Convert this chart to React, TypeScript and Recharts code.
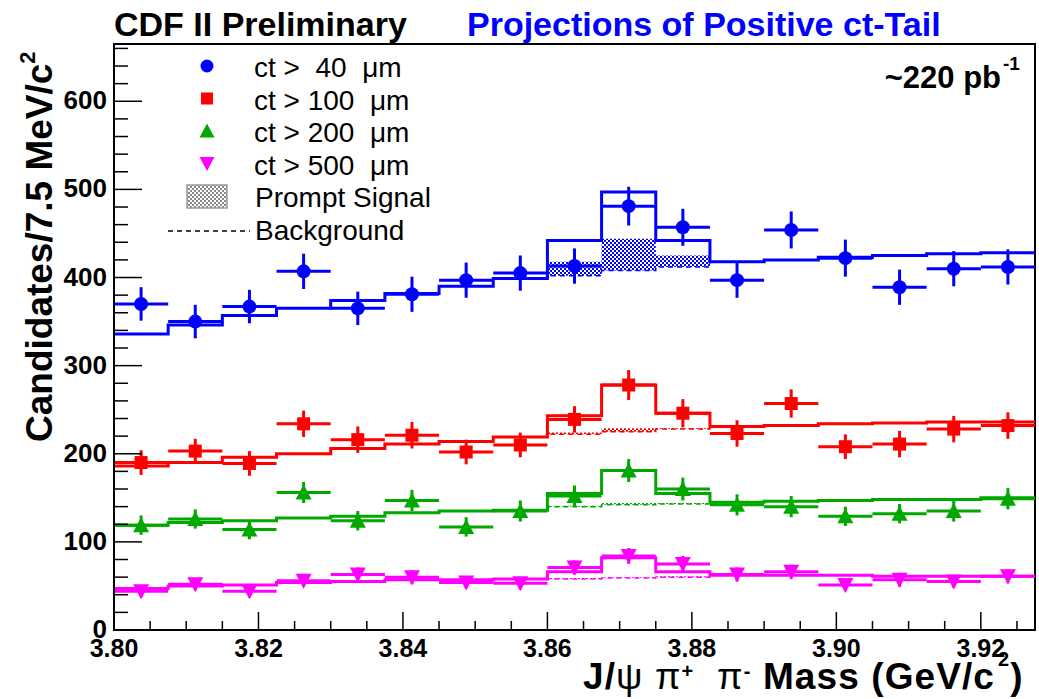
import React from 'react'
import { ComposedChart, XAxis, YAxis, Line, Area, Scatter, ErrorBar, ReferenceArea } from 'recharts'

const W = 1039
const H = 699
const FONT = '"Liberation Sans", Arial, Helvetica, sans-serif'

// 7.5 MeV/c^2 mass bins
const binEdges = [3.8, 3.8075, 3.815, 3.8225, 3.83, 3.8375, 3.845, 3.8525, 3.86, 3.8675, 3.875, 3.8825, 3.89, 3.8975, 3.905, 3.9125, 3.92, 3.9275]

// ct > 40 um
const ct40Counts = [370, 350, 367, 407, 365, 381, 397, 405, 413, 481, 457, 397, 454, 422, 389, 410, 412]
const ct40Errors = [19, 19, 19, 20, 19, 20, 20, 20, 20, 22, 21, 20, 21, 21, 20, 20, 20]
const ct40Fit = [336, 346, 357, 365, 374, 382, 390, 399, 442, 497, 442, 418, 420, 423, 425, 427, 428]
const ct40Bkg = [336, 346, 357, 365, 374, 382, 390, 399, 402, 408, 412, 418, 420, 423, 425, 427, 428]
const ct40Prompt = [0, 0, 0, 0, 0, 0, 0, 0, 16, 36, 13, 0, 0, 0, 0, 0, 0]

// ct > 100 um
const ct100Counts = [190, 203, 189, 234, 216, 221, 202, 210, 239, 278, 246, 223, 257, 208, 211, 228, 232]
const ct100Errors = [14, 14, 14, 15, 15, 15, 14, 14, 15, 17, 16, 15, 16, 14, 15, 15, 15]
const ct100Fit = [186, 190, 196, 200, 206, 211, 214, 219, 243, 278, 246, 231, 232, 234, 235, 236, 236]
const ct100Bkg = [186, 190, 196, 200, 206, 211, 214, 219, 222, 225, 228, 231, 232, 234, 235, 236, 236]
const ct100Prompt = [0, 0, 0, 0, 0, 0, 0, 0, 2, 4, 1, 0, 0, 0, 0, 0, 0]

// ct > 200 um
const ct200Counts = [119, 126, 114, 156, 124, 147, 117, 135, 152, 181, 160, 142, 140, 129, 132, 135, 149]
const ct200Errors = [11, 11, 11, 12, 11, 12, 11, 12, 12, 13, 13, 12, 12, 11, 11, 12, 12]
const ct200Fit = [119, 122, 124, 127, 129, 133, 135, 136, 155, 181, 155, 145, 146, 147, 148, 148, 150]
const ct200Bkg = [119, 122, 124, 127, 129, 133, 135, 136, 140, 142, 143, 145, 146, 147, 148, 148, 150]
const ct200Prompt = [0, 0, 0, 0, 0, 0, 0, 0, 1, 2, 1, 0, 0, 0, 0, 0, 0]

// ct > 500 um
const ct500Counts = [44, 52, 44, 56, 63, 60, 54, 53, 71, 84, 75, 63, 66, 51, 57, 55, 61]
const ct500Errors = [7, 7, 7, 7, 8, 8, 7, 7, 8, 9, 9, 8, 8, 7, 8, 7, 8]
const ct500Fit = [47, 50, 51, 54, 55, 57, 57, 58, 66, 82, 66, 62, 62, 62, 61, 61, 61]
const ct500Bkg = [47, 50, 51, 54, 55, 57, 57, 58, 58, 59, 60, 62, 62, 62, 61, 61, 61]
const ct500Prompt = [0, 0, 0, 0, 0, 0, 0, 0, 1, 1, 1, 0, 0, 0, 0, 0, 0]

const legendLabels = ['ct >  40  \u03bcm', 'ct > 100  \u03bcm', 'ct > 200  \u03bcm', 'ct > 500  \u03bcm']

const xTicks = Array.from({ length: 26 }, (_, i) => +(3.8 + i * 0.005).toFixed(3))
const yTicks = Array.from({ length: 34 }, (_, i) => i * 20)

type MarkerKind = 'circle' | 'square' | 'triangle' | 'triangleDown'

interface Series {
  id: string
  color: string
  marker: MarkerKind
  counts: number[]
  errors: number[]
  fit: number[]
  bkg: number[]
  prompt: number[]
}

const series: Series[] = [
  { id: 'ct40', color: '#0000ff', marker: 'circle', counts: ct40Counts, errors: ct40Errors, fit: ct40Fit, bkg: ct40Bkg, prompt: ct40Prompt },
  { id: 'ct100', color: '#ff0000', marker: 'square', counts: ct100Counts, errors: ct100Errors, fit: ct100Fit, bkg: ct100Bkg, prompt: ct100Prompt },
  { id: 'ct200', color: '#00a800', marker: 'triangle', counts: ct200Counts, errors: ct200Errors, fit: ct200Fit, bkg: ct200Bkg, prompt: ct200Prompt },
  { id: 'ct500', color: '#ff00ff', marker: 'triangleDown', counts: ct500Counts, errors: ct500Errors, fit: ct500Fit, bkg: ct500Bkg, prompt: ct500Prompt },
]

// step histograms: one row per bin edge, the last edge repeats the last bin
const histRows = (s: Series) =>
  binEdges.map((x, i) => {
    const j = Math.min(i, s.fit.length - 1)
    return { x, fit: s.fit[j], bkg: s.bkg[j], band: [s.bkg[j], s.bkg[j] + s.prompt[j]] }
  })

const pointRows = (s: Series) =>
  s.counts.map((y, i) => ({
    x: (binEdges[i] + binEdges[i + 1]) / 2,
    y,
    ey: s.errors[i],
    ex: (binEdges[i + 1] - binEdges[i]) / 2,
  }))

function Marker({ kind, cx, cy, color, size = 14 }: { kind: MarkerKind; cx: number; cy: number; color: string; size?: number }) {
  const r = size / 2
  if (kind === 'circle') return <circle cx={cx} cy={cy} r={r} fill={color} />
  if (kind === 'square') return <rect x={cx - r + 0.5} y={cy - r + 0.5} width={size - 1} height={size - 1} fill={color} />
  if (kind === 'triangle')
    return <polygon points={`${cx},${cy - r - 1} ${cx - r - 1},${cy + r} ${cx + r + 1},${cy + r}`} fill={color} />
  return <polygon points={`${cx},${cy + r + 1} ${cx - r - 1},${cy - r} ${cx + r + 1},${cy - r}`} fill={color} />
}

const YTick = (props: any) => {
  const { x, y, payload } = props
  const major = payload.value % 100 === 0
  return (
    <g>
      <line x1={x} x2={x + (major ? 28 : 14)} y1={y} y2={y} stroke="#000" strokeWidth={1.5} />
      {major && (
        <text x={x - 7} y={y + 8} textAnchor="end" fontSize={26} fontWeight="bold" fontFamily={FONT} fill="#000">
          {payload.value}
        </text>
      )}
    </g>
  )
}

const XTick = (props: any) => {
  const { x, y, payload } = props
  const major = Math.round(payload.value * 1000) % 20 === 0
  return (
    <g>
      <line x1={x} x2={x} y1={y} y2={y - (major ? 18 : 9)} stroke="#000" strokeWidth={1.5} />
      {major && (
        <text x={x} y={y + 27} textAnchor="middle" fontSize={25} fontWeight="bold" fontFamily={FONT} fill="#000">
          {payload.value.toFixed(2)}
        </text>
      )}
    </g>
  )
}

function DotPattern({ id, color }: { id: string; color: string }) {
  return (
    <pattern id={id} width={4} height={4} patternUnits="userSpaceOnUse">
      <rect width={4} height={4} fill="#fff" />
      <rect width={2} height={2} fill={color} />
      <rect x={2} y={2} width={2} height={2} fill={color} />
    </pattern>
  )
}

export default function App() {
  const rowY = (i: number) => 77 + i * 32.5
  return (
    <div style={{ position: 'fixed', left: 0, top: 0, width: W, height: H, background: '#fff' }}>
      <ComposedChart width={W} height={H} margin={{ top: 44, right: 4, bottom: 0, left: 0 }}>
        <defs>
          {series.map((s) => (
            <DotPattern key={s.id} id={`dots-${s.id}`} color={s.color} />
          ))}
        </defs>
        <XAxis
          dataKey="x"
          type="number"
          domain={[3.8, 3.9275]}
          allowDataOverflow
          ticks={xTicks}
          interval={0}
          tickSize={0}
          tickMargin={0}
          tickLine={false}
          tick={<XTick />}
          height={69}
          axisLine={{ stroke: '#000', strokeWidth: 2 }}
        />
        <YAxis
          type="number"
          domain={[0, 665]}
          allowDataOverflow
          ticks={yTicks}
          interval={0}
          tickSize={0}
          tickMargin={0}
          tickLine={false}
          tick={<YTick />}
          width={114}
          axisLine={{ stroke: '#000', strokeWidth: 2 }}
        />
        <ReferenceArea x1={3.8} x2={3.9275} y1={0} y2={665} fill="none" stroke="#000" strokeWidth={2} ifOverflow="visible" />
        {series.flatMap((s) => {
          const rows = histRows(s)
          return [
            <Area
              key={`${s.id}-prompt`}
              data={rows}
              dataKey="band"
              type="stepAfter"
              stroke="none"
              fill={`url(#dots-${s.id})`}
              fillOpacity={1}
              isAnimationActive={false}
              activeDot={false}
            />,
            <Line
              key={`${s.id}-bkg`}
              data={rows}
              dataKey="bkg"
              type="stepAfter"
              stroke={s.color}
              strokeWidth={1.5}
              strokeDasharray="5 4"
              dot={false}
              activeDot={false}
              isAnimationActive={false}
            />,
            <Line
              key={`${s.id}-fit`}
              data={rows}
              dataKey="fit"
              type="stepAfter"
              stroke={s.color}
              strokeWidth={3}
              dot={false}
              activeDot={false}
              isAnimationActive={false}
            />,
          ]
        })}
        {series.map((s) => (
          <Scatter
            key={`${s.id}-data`}
            data={pointRows(s)}
            dataKey="y"
            fill={s.color}
            isAnimationActive={false}
            shape={(p: any) => <Marker kind={s.marker} cx={p.cx} cy={p.cy} color={s.color} />}
          >
            <ErrorBar dataKey="ey" direction="y" width={0} stroke={s.color} strokeWidth={3} />
            <ErrorBar dataKey="ex" direction="x" width={0} stroke={s.color} strokeWidth={3} />
          </Scatter>
        ))}
      </ComposedChart>

      <svg
        width={W}
        height={H}
        style={{ position: 'absolute', left: 0, top: 0, pointerEvents: 'none' }}
        fontFamily={FONT}
      >
        <defs>
          <DotPattern id="dots-legend" color="#8a8a8a" />
        </defs>
        <text x={114} y={36} fontSize={34} fontWeight="bold" fill="#000">
          CDF II Preliminary
        </text>
        <text x={467} y={36} fontSize={34} fontWeight="bold" fill="#0000ff">
          Projections of Positive ct-Tail
        </text>
        <text x={1001} y={88} fontSize={31} fontWeight="bold" textAnchor="end" fill="#000">
          ~220 pb
        </text>
        <text x={1003} y={70} fontSize={19} fontWeight="bold" fill="#000">
          -1
        </text>

        {series.map((s, i) => (
          <g key={s.id}>
            <Marker kind={s.marker} cx={207} cy={rowY(i) - 11} color={s.color} size={13} />
            <text x={254} y={rowY(i)} fontSize={28} fill="#000" style={{ whiteSpace: 'pre' }}>
              {legendLabels[i]}
            </text>
          </g>
        ))}
        <rect x={187} y={185} width={40} height={23} fill="url(#dots-legend)" stroke="#9a9a9a" strokeWidth={1.5} />
        <text x={255} y={rowY(4)} fontSize={28} fill="#000">
          Prompt Signal
        </text>
        <line x1={168} x2={250} y1={231} y2={231} stroke="#000" strokeWidth={1.5} strokeDasharray="5 4" />
        <text x={255} y={rowY(5)} fontSize={28} fill="#000">
          Background
        </text>

        <text transform="translate(52,442) rotate(-90)" fontSize={37} fontWeight="bold" fill="#000">
          Candidates/7.5 MeV/c<tspan fontSize={22} dy={-17}>2</tspan>
        </text>

        <text x={583} y={689} fontSize={37} fontWeight="bold" letterSpacing={1.1} fill="#000" style={{ whiteSpace: 'pre' }}>
          J/<tspan fontWeight="normal">{'\u03c8 \u03c0'}</tspan>
          <tspan fontSize={20} dy={-11}>+</tspan>
          <tspan dy={11} fontWeight="normal">{'  \u03c0'}</tspan>
          <tspan fontSize={20} dy={-11}>-</tspan>
          <tspan dy={11}>{' Mass (GeV/c'}</tspan>
          <tspan fontSize={20} dx={3} dy={-23}>2</tspan>
          <tspan dy={23}>)</tspan>
        </text>
      </svg>
    </div>
  )
}
